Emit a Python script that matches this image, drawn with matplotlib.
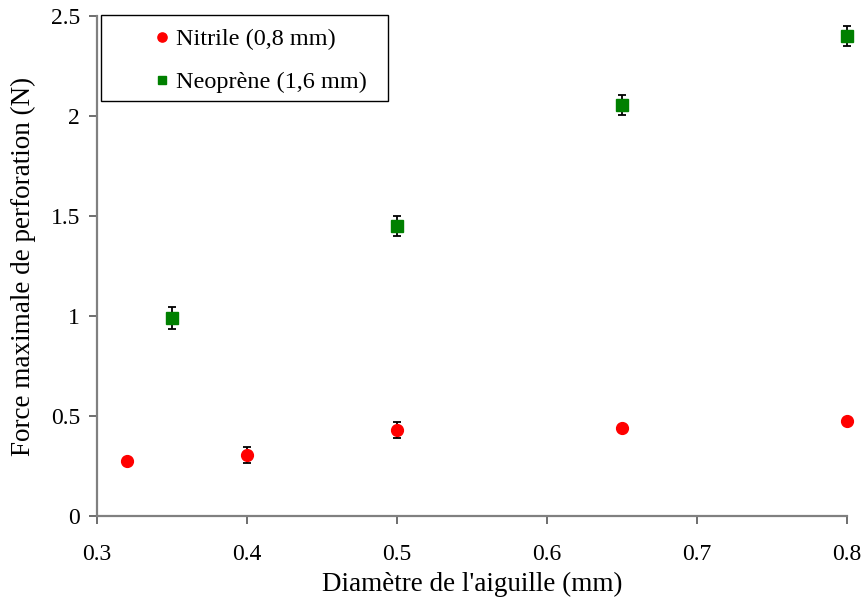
import matplotlib.pyplot as plt
from matplotlib.patches import Rectangle
from matplotlib.ticker import FuncFormatter, MultipleLocator

plt.rcParams['font.family'] = ['Liberation Serif', 'DejaVu Serif']

# needle diameters (mm) and peak puncture force (N)
x_nitrile = [0.32, 0.40, 0.50, 0.65, 0.80]
f_nitrile = [0.277, 0.305, 0.428, 0.440, 0.477]
e_nitrile = [0.012, 0.042, 0.040, 0.015, 0.015]

x_neoprene = [0.35, 0.50, 0.65, 0.80]
f_neoprene = [0.99, 1.452, 2.058, 2.402]
e_neoprene = [0.055, 0.050, 0.050, 0.050]

series_labels = ['Nitrile (0,8 mm)', 'Neoprène (1,6 mm)']

fig = plt.figure(figsize=(8.65, 6.02), dpi=100)
ax = fig.add_axes([0.112, 0.143, 0.867, 0.830])

style = dict(ecolor='black', elinewidth=1.3, capsize=3, capthick=1.3, zorder=3)
e1 = ax.errorbar(x_nitrile, f_nitrile, yerr=e_nitrile, fmt='o', color='#ff0000',
                 ms=8.5, **style)
e2 = ax.errorbar(x_neoprene, f_neoprene, yerr=e_neoprene, fmt='s', color='#008000',
                 ms=8, **style)
for eb in (e1, e2):
    for art in eb.get_children():
        art.set_clip_on(False)

ax.set_xlim(0.3, 0.8)
ax.set_ylim(0, 2.5)
ax.xaxis.set_major_locator(MultipleLocator(0.1))
ax.yaxis.set_major_locator(MultipleLocator(0.5))
fmt = FuncFormatter(lambda v, p: '%g' % round(v, 2))
ax.xaxis.set_major_formatter(fmt)
ax.yaxis.set_major_formatter(fmt)

for s in ['top', 'right']:
    ax.spines[s].set_visible(False)
for s in ['left', 'bottom']:
    ax.spines[s].set_color('#808080')
    ax.spines[s].set_linewidth(1.6)
ax.tick_params(direction='out', length=6, width=1.2, color='#555555',
               labelsize=17)
ax.tick_params(axis='x', pad=14)
ax.tick_params(axis='y', pad=6)

ax.set_xlabel("Diamètre de l'aiguille (mm)", fontsize=19.5, labelpad=5)
ax.set_ylabel('Force maximale de perforation (N)', fontsize=19.5, labelpad=11)

# legend: plain black box in the top-left corner
ax.add_patch(Rectangle((0.005, 0.830), 0.383, 0.172, transform=ax.transAxes,
                       facecolor='white', edgecolor='black', lw=1.0,
                       clip_on=False, zorder=4))
leg = ax.legend([e1[0], e2[0]], series_labels, loc='upper left',
                bbox_to_anchor=(0.071, 0.976), fontsize=17.5, markerscale=0.78,
                handlelength=1.0, handletextpad=0.05, labelspacing=0.87,
                borderpad=0, borderaxespad=0, frameon=False)
leg.set_zorder(5)

fig.savefig('out.png', dpi=100)
